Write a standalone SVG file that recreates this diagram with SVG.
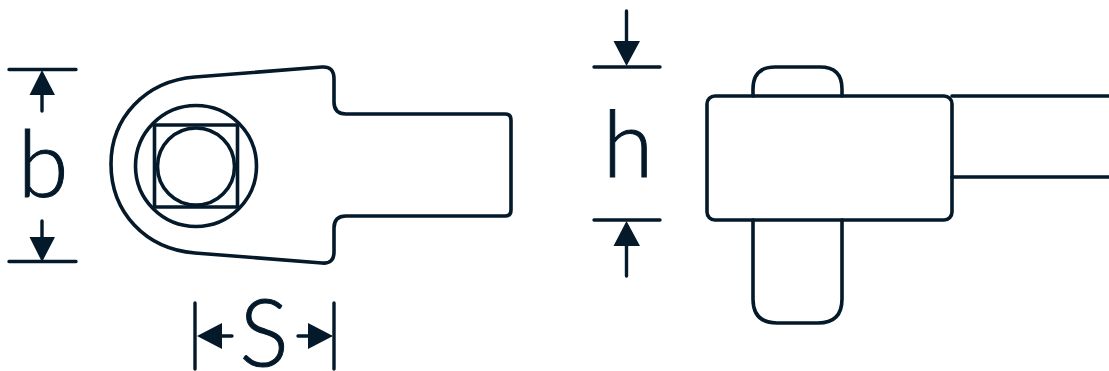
<svg xmlns="http://www.w3.org/2000/svg" width="1109" height="371" viewBox="0 0 1109 371">
<style>
.l{fill:none;stroke:#04192a;stroke-width:3.6;stroke-linecap:round;stroke-linejoin:round}
.d{fill:none;stroke:#04192a;stroke-width:3.4;stroke-linecap:round}
.a{fill:#04192a}
text{font-family:"Lato","Inter","Liberation Sans",sans-serif;font-weight:300;fill:#04192a;stroke:#04192a;stroke-width:1;font-size:92px;text-anchor:middle}
</style>
<rect width="1109" height="371" fill="#fff"/>
<g id="ratchet-head">
<path class="l" d="M322 67 L195 77 C145 81 111 118 111 164 C111 212 145 249 195 253 L322 263 Q334 264 334 252 L334 228 Q334 216 346 216 L505 216 Q511 216 511 210 L511 120 Q511 114 505 114 L346 114 Q334 114 334 102 L334 79 Q334 66 322 67 Z"/>
<circle class="l" cx="196" cy="166" r="60.500"/>
<rect class="l" x="154.500" y="125" width="83" height="82"/>
<circle class="l" cx="196" cy="166.500" r="38.500"/>
</g>
<g id="side-view">
<rect class="l" x="707" y="96" width="245" height="124" rx="8"/>
<path class="l" d="M753 96 L753 89 Q753 67 775 67 L820 67 Q842 67 842 89 L842 96"/>
<path class="l" d="M753 220 L753 299 Q753 323 777 323 L818 323 Q842 323 842 299 L842 220"/>
<path class="l" d="M952 96 L1109 96 M952 177 L1109 177"/>
</g>
<g id="connectors">
<path class="d" d="M9 69.500 H76 M9 261.500 H76 M42 95 V111 M42 221 V238 M195 303 V369 M334 303 V369 M220 336 H232 M298 336 H310 M594 67 H660 M594 220 H660 M626.500 11 V44 M626.500 244 V276"/>
<path class="a" d="M29.500 95 H55 L42 70 Z M29.500 237 H55 L42 262 Z M197 336 L222 323 V349 Z M333 336 L308 323 V349 Z M613.500 41 H640 L626.500 66 Z M613.500 246 H640 L626.500 221 Z"/>
</g>
<g id="labels">
<text x="43" y="197">b</text>
<text x="264" y="366">S</text>
<text x="628" y="177">h</text>
</g>
</svg>
